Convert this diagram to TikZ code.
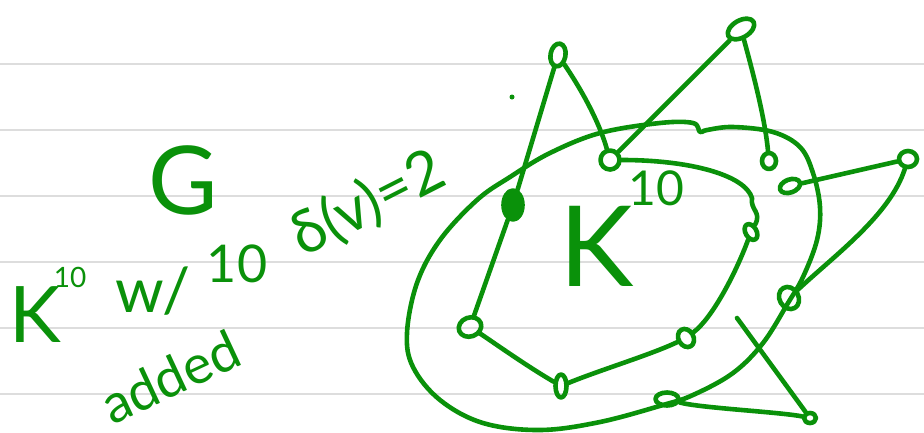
\documentclass[tikz,border=0pt]{standalone}
\usepackage{fontspec}
\setmainfont{Lato}
\usetikzlibrary{shapes.geometric}
\definecolor{ink}{RGB}{10,145,10}
\definecolor{rulegray}{RGB}{221,221,221}
\begin{document}
\begin{tikzpicture}[x=1pt,y=-1pt,
  pen/.style={draw=ink,line width=4.6pt,line cap=round,line join=round},
  vtx/.style={pen,ellipse,inner sep=0pt,minimum width=14pt,minimum height=16pt},
  hand/.style={text=ink,inner sep=0pt}]
\useasboundingbox (0,0) rectangle (924,432);
\fill[white] (0,0) rectangle (924,432);
\foreach \yy in {64,130,196,262,328,394} \draw[rulegray,line width=2.5pt] (0,\yy) -- (924,\yy);
% outer loop
\draw[pen] plot[smooth cycle,tension=0.6] coordinates {
 (733,127) (773,132) (800,147) (813,173) (820,207) (817,240) (803,277) (788,303)
 (763,343) (733,373) (693,395) (663,405) (600,422) (540,430) (483,423) (440,400)
 (413,367) (407,333) (417,283) (440,240) (477,200) (510,177) (550,153) (600,133)
 (660,123) (693,123) (700,132) (707,130)};
% vertices
\node[vtx,minimum width=15pt,minimum height=23pt,rotate=-10] (A) at (558,55) {};
\node[vtx,minimum width=29pt,minimum height=17pt,rotate=30] (B) at (741,29) {};
\node[vtx,minimum width=19pt,minimum height=19pt] (C) at (610,160) {};
\node[vtx] (D) at (769,161) {};
\node[vtx,minimum width=18pt,minimum height=16pt] (E) at (908,159) {};
\node[vtx,minimum width=21pt,minimum height=13pt,rotate=20] (F) at (790,186) {};
\node[pen,fill=ink,ellipse,minimum width=19pt,minimum height=29pt,inner sep=0pt] (L) at (513,205) {};
\node[vtx,minimum width=11pt,minimum height=17pt,rotate=30] (M) at (751,232) {};
\node[vtx,minimum width=19pt,minimum height=23pt,rotate=30] (N) at (789,298) {};
\node[vtx,minimum width=23pt,minimum height=19pt,rotate=20] (P) at (470,327) {};
\node[vtx,minimum width=15pt,minimum height=19pt,rotate=30] (Q) at (686,338) {};
\node[vtx,minimum width=11pt,minimum height=23pt] (R) at (561,386) {};
\node[vtx,minimum width=23pt,minimum height=13pt] (S) at (667,399) {};
\node[vtx,minimum width=12pt,minimum height=10pt] (T) at (810,418) {};
\node[fill=ink,circle,inner sep=0pt,minimum size=5pt] (dot) at (512,97) {};
% edges
\draw[pen] (A) -- (L);
\draw[pen] (L) -- (P);
\draw[pen] (A) .. controls (585,95) and (600,125) .. (C);
\draw[pen] (B) -- (C);
\draw[pen] (B) .. controls (755,80) and (765,120) .. (D);
\draw[pen] (E) -- (F);
\draw[pen] (E) .. controls (890,215) and (835,255) .. (N);
\draw[pen] (C) .. controls (690,160) and (745,175) .. (752,198) .. controls (750,210) and (762,212) .. (M);
\draw[pen] (M) .. controls (735,275) and (712,318) .. (Q);
\draw[pen] (Q) .. controls (650,355) and (600,370) .. (R);
\draw[pen] (R) .. controls (525,365) and (490,340) .. (P);
\coordinate (X) at (737,318);
\draw[pen] (X) -- (T);
\draw[pen] (T) .. controls (780,412) and (700,408) .. (S);
% texts
\node[hand,font=\fontsize{95}{95}\selectfont] (g) at (183,180) {G};
\node[hand,font=\fontsize{78}{78}\selectfont] (k1) at (35,315) {K};
\node[hand,font=\fontsize{28}{28}\selectfont] (k1e) at (70,277) {10};
\node[hand,font=\fontsize{62}{62}\selectfont] (w) at (153,291) {w/};
\node[hand,font=\fontsize{52}{52}\selectfont] (ten) at (237,264) {10};
\node[hand,font=\fontsize{60}{60}\selectfont,rotate=27] (deg) at (368,204) {δ(v)=2};
\node[hand,font=\fontsize{54}{54}\selectfont,rotate=25] (add) at (170,377) {added};
\node[hand,font=\fontsize{112}{112}\selectfont] (k2) at (597,246) {K};
\node[hand,font=\fontsize{48}{48}\selectfont] (k2e) at (656,188) {10};
\end{tikzpicture}
\end{document}
